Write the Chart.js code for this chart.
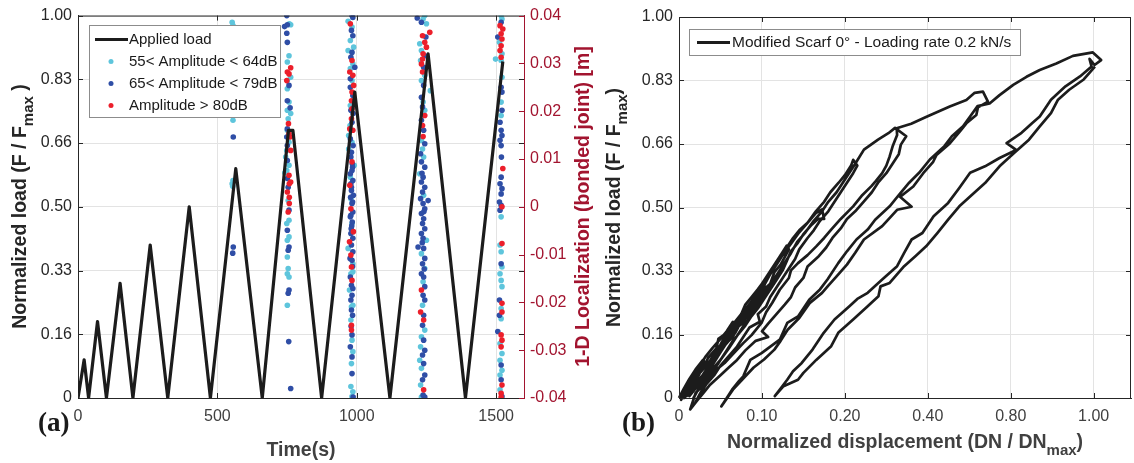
<!DOCTYPE html>
<html>
<head>
<meta charset="utf-8">
<script src="https://cdn.jsdelivr.net/npm/chart.js@4.4.1/dist/chart.umd.min.js"></script>
<style>
  html, body { margin: 0; padding: 0; background: #fff; }
  #wrap { position: relative; width: 1134px; height: 463px; overflow: hidden; }
  canvas { position: absolute; top: 0; }
  #cA { left: 0; }
  #cB { left: 596px; }
</style>
</head>
<body>
<div id="wrap">
  <canvas id="cA" width="600" height="463"></canvas>
  <canvas id="cB" width="538" height="463"></canvas>
</div>
<script>
// ---- axis ticks / labels ----
const loadTicks = [0, 1/6, 2/6, 3/6, 4/6, 5/6, 1];
const loadTickLabels = ['0', '0.16', '0.33', '0.50', '0.66', '0.83', '1.00'];
const timeTicks = [0, 500, 1000, 1500];
const timeTickLabels = ['0', '500', '1000', '1500'];
const locTicks = [-0.04, -0.03, -0.02, -0.01, 0, 0.01, 0.02, 0.03, 0.04];
const locTickLabels = ['-0.04', '-0.03', '-0.02', '-0.01', '0', '0.01', '0.02', '0.03', '0.04'];
const dispTicks = [0, 0.2, 0.4, 0.6, 0.8, 1.0];
const dispTickLabels = ['0', '0.10', '0.20', '0.40', '0.80', '1.00'];

const seriesLabels = ['Applied load', '55< Amplitude < 64dB', '65< Amplitude < 79dB', 'Amplitude > 80dB'];
const curveLabel = 'Modified Scarf 0\u00b0 - Loading rate 0.2 kN/s';

// ---- panel (a): applied load vs time ----
const loadTime = [0, 22, 38, 70, 102, 151, 197, 259, 322, 399, 475, 566, 661, 755, 771, 874, 993, 1119, 1256, 1390, 1524];
const appliedLoad = [0, 0.10, 0, 0.20, 0, 0.30, 0, 0.40, 0, 0.50, 0, 0.60, 0, 0.70, 0.70, 0, 0.80, 0, 0.90, 0, 0.88];

// AE hits [time s, 1-D location m]
const hitsLow = [
  [553,0.0386],[556,0.0379],[555,0.0202],[556,0.0181],[553,0.0048],[556,0.0055],[555,0.0043],
  [763,0.0381],[758,0.0383],[757,0.0316],[751,0.0303],[763,0.0271],[751,0.0264],[751,0.0247],[757,0.0219],
  [751,0.0202],[763,0.0195],[754,0.0184],[751,0.0160],[757,0.0135],[749,0.0118],[745,0.0104],[757,0.0087],
  [749,0.0076],[742,0.0071],[754,0.0013],[757,-0.0028],[749,-0.0035],[757,-0.0063],[751,-0.0070],
  [751,-0.0105],[754,-0.0129],[751,-0.0140],[757,-0.0147],[751,-0.0206],
  [969,0.0388],[983,0.0376],[977,0.0348],[989,0.0334],[969,0.0327],[986,0.0299],[977,0.0289],[983,0.0264],
  [977,0.0212],[976,0.0170],[971,0.0149],[983,0.0135],[971,0.0121],[991,0.0087],[977,0.0062],[979,0.0017],
  [983,-0.0035],[969,-0.0087],[986,-0.0119],[986,-0.0136],[979,-0.0140],[974,-0.0174],[986,-0.0206],
  [981,-0.0209],[979,-0.0237],[983,-0.0279],[986,-0.0303],[981,-0.0328],[979,-0.0376],[986,-0.0387],[983,-0.0397],
  [1244,0.0400],[1238,0.0393],[1250,0.0383],[1226,0.0341],[1232,0.0327],[1229,0.0306],[1244,0.0275],
  [1232,0.0264],[1264,0.0243],[1238,0.0219],[1244,0.0202],[1232,0.0139],[1236,0.0121],[1240,0.0104],
  [1226,0.0069],[1240,0.0024],[1250,-0.0070],[1232,-0.0098],[1244,-0.0129],[1238,-0.0157],[1236,-0.0206],
  [1244,-0.0258],[1232,-0.0272],[1229,-0.0293],[1226,-0.0321],[1232,-0.0338],[1229,-0.0373],[1232,-0.0398],
  [1518,0.0400],[1521,0.0393],[1512,0.0344],[1521,0.0320],[1498,0.0309],[1518,0.0306],[1521,0.0271],
  [1518,0.0219],[1518,0.0191],[1518,-0.0021],[1514,-0.0080],[1518,-0.0094],[1521,-0.0126],[1514,-0.0140],
  [1518,-0.0154],[1521,-0.0167],[1518,-0.0213],[1518,-0.0234],[1514,-0.0286],[1521,-0.0307],[1514,-0.0321],
  [1521,-0.0342],[1514,-0.0352],[1514,-0.0383]
];
const hitsMid = [
  [557,0.0146],[555,-0.0097],[557,-0.0084],
  [749,0.0400],[741,0.0377],[751,0.0381],[749,0.0363],[751,0.0344],[757,0.0254],[751,0.0222],[761,0.0207],
  [751,0.0163],[749,0.0146],[751,0.0128],[751,0.0097],[751,0.0059],[754,0.0041],[757,-0.0007],[751,-0.0049],
  [757,-0.0084],[754,-0.0091],[757,-0.0174],[754,-0.0181],[756,-0.0282],[763,-0.0380],
  [983,0.0400],[986,0.0396],[981,0.0369],[986,0.0358],[983,0.0323],[979,0.0313],[993,0.0292],[977,0.0268],
  [977,0.0250],[986,0.0233],[979,0.0202],[987,0.0195],[983,0.0177],[977,0.0142],[987,0.0128],[981,0.0114],
  [979,0.0104],[984,0.0090],[985,0.0083],[983,0.0076],[977,0.0069],[986,0.0055],[979,0.0048],[981,0.0041],
  [981,0.0034],[988,0.0024],[978,0.0020],[985,0.0010],[983,0.0007],[986,-0.0011],[979,-0.0018],[977,-0.0021],
  [984,-0.0032],[982,-0.0040],[980,-0.0046],[979,-0.0056],[986,-0.0066],[981,-0.0080],[986,-0.0094],
  [976,-0.0108],[983,-0.0112],[985,-0.0125],[977,-0.0147],[981,-0.0164],[986,-0.0171],[983,-0.0185],
  [979,-0.0195],[981,-0.0216],[985,-0.0227],[980,-0.0250],[983,-0.0268],[977,-0.0293],[983,-0.0314],
  [983,-0.0349],[987,-0.0398],
  [1217,0.0395],[1232,0.0386],[1248,0.0355],[1244,0.0316],[1240,0.0292],[1240,0.0254],[1232,0.0229],
  [1236,0.0209],[1232,0.0181],[1240,0.0160],[1244,0.0132],[1229,0.0111],[1232,0.0094],[1244,0.0083],
  [1234,0.0070],[1238,0.0062],[1232,0.0052],[1244,0.0041],[1236,0.0031],[1229,0.0017],[1256,0.0013],
  [1238,0.0007],[1244,-0.0004],[1241,-0.0010],[1232,-0.0014],[1240,-0.0025],[1236,-0.0035],[1244,-0.0046],
  [1232,-0.0056],[1238,-0.0066],[1235,-0.0075],[1220,-0.0084],[1240,-0.0087],[1244,-0.0108],[1236,-0.0119],
  [1242,-0.0130],[1232,-0.0140],[1240,-0.0147],[1244,-0.0167],[1238,-0.0185],[1244,-0.0195],[1240,-0.0227],
  [1236,-0.0248],[1240,-0.0279],[1244,-0.0300],[1236,-0.0310],[1240,-0.0328],[1244,-0.0352],[1236,-0.0362],
  [1238,-0.0394],[1244,-0.0398],
  [1518,0.0386],[1506,0.0355],[1518,0.0250],[1521,0.0240],[1521,0.0202],[1514,0.0177],[1518,0.0160],
  [1521,0.0149],[1514,0.0139],[1518,0.0128],[1519,0.0104],[1518,0.0062],[1514,0.0048],[1521,0.0038],
  [1518,0.0027],[1512,0.0010],[1518,0.0003],[1514,-0.0007],[1518,-0.0119],[1512,-0.0195],[1512,-0.0227],
  [1506,-0.0261],[1518,-0.0331],[1518,-0.0362],[1521,-0.0397]
];
const hitsHigh = [
  [763,0.0291],[751,0.0282],[757,0.0278],[749,0.0264],[755,0.0174],[757,0.0153],[761,0.0146],[763,0.0118],
  [757,0.0066],[763,0.0052],[758,0.0048],[751,0.0031],[758,0.0020],[758,0.0007],[754,-0.0011],
  [977,0.0383],[983,0.0306],[975,0.0282],[986,0.0275],[989,0.0254],[983,0.0240],[981,0.0222],[983,0.0205],
  [981,0.0184],[975,0.0163],[986,0.0160],[983,0.0094],[975,0.0045],[979,-0.0004],[988,-0.0052],[974,-0.0073],
  [979,-0.0101],[981,-0.0126],[983,-0.0154],[981,-0.0248],[981,-0.0258],
  [1262,0.0365],[1236,0.0358],[1244,0.0344],[1250,0.0334],[1238,0.0320],[1236,0.0309],[1232,0.0299],
  [1236,0.0282],[1244,0.0191],[1236,0.0170],[1238,0.0147],[1232,-0.0174],[1229,-0.0220],[1240,-0.0237],
  [1240,-0.0383],
  [1514,0.0379],[1524,0.0372],[1518,0.0362],[1521,0.0351],[1518,0.0337],[1514,0.0327],[1518,0.0313],
  [1524,0.0080],[1521,0],[1521,-0.0077],[1521,-0.0202],[1521,-0.0220],[1518,-0.0268],[1521,-0.0279],
  [1518,-0.0293],[1521,-0.0373],[1518,-0.0390],[1518,-0.0398]
];

// ---- panel (b): load vs displacement, cycle by cycle [disp, load] ----
const cyc1 = [[0,0],[0.012,0.025],[0.025,0.05],[0.04,0.075],[0.058,0.1],[0.06,0.09],[0.045,0.065],[0.03,0.035],[0.012,0.01],[0.005,-0.005]];
const cyc2 = [[0.02,0.03],[0.035,0.055],[0.05,0.085],[0.065,0.11],[0.08,0.13],[0.1,0.155],[0.115,0.175],[0.13,0.2],
  [0.135,0.19],[0.12,0.165],[0.105,0.14],[0.095,0.12],[0.075,0.09],[0.065,0.07],[0.045,0.045],[0.03,0.02],[0.012,0]];
const cyc3 = [[0.03,0.035],[0.045,0.06],[0.06,0.08],[0.07,0.105],[0.09,0.13],[0.095,0.155],[0.12,0.175],[0.135,0.2],
  [0.15,0.22],[0.16,0.245],[0.175,0.265],[0.19,0.285],[0.2,0.3],[0.21,0.29],[0.2,0.27],[0.185,0.255],[0.175,0.23],
  [0.165,0.205],[0.14,0.185],[0.13,0.16],[0.11,0.14],[0.1,0.12],[0.085,0.1],[0.07,0.075],[0.05,0.05],[0.035,0.02],[0.018,0.005]];
const cyc4 = [[0.035,0.035],[0.05,0.065],[0.07,0.09],[0.085,0.115],[0.1,0.14],[0.11,0.16],[0.13,0.185],[0.15,0.21],
  [0.165,0.24],[0.18,0.26],[0.19,0.285],[0.21,0.31],[0.22,0.33],[0.235,0.355],[0.245,0.375],[0.26,0.4],[0.265,0.39],
  [0.255,0.37],[0.245,0.35],[0.23,0.33],[0.22,0.3],[0.2,0.28],[0.19,0.255],[0.175,0.235],[0.16,0.21],[0.145,0.19],
  [0.135,0.17],[0.12,0.15],[0.1,0.125],[0.085,0.1],[0.07,0.075],[0.055,0.05],[0.04,0.025],[0.025,0.005]];
const cyc5 = [[0.04,0.03],[0.06,0.065],[0.075,0.09],[0.09,0.115],[0.11,0.145],[0.125,0.17],[0.14,0.195],[0.155,0.22],
  [0.17,0.245],[0.185,0.27],[0.2,0.3],[0.215,0.325],[0.23,0.35],[0.245,0.375],[0.26,0.395],[0.275,0.42],[0.29,0.44],
  [0.31,0.46],[0.33,0.485],[0.345,0.495],[0.35,0.47],[0.335,0.47],[0.32,0.455],[0.3,0.43],[0.285,0.405],[0.27,0.385],
  [0.26,0.36],[0.25,0.335],[0.235,0.31],[0.22,0.285],[0.205,0.26],[0.19,0.235],[0.175,0.215],[0.16,0.19],[0.145,0.17],
  [0.13,0.15],[0.115,0.125],[0.1,0.1],[0.08,0.075],[0.065,0.05],[0.045,0.02],[0.035,0]];
const cyc6 = [[0.05,0.03],[0.065,0.06],[0.08,0.085],[0.1,0.12],[0.115,0.145],[0.13,0.17],[0.145,0.195],[0.16,0.22],
  [0.175,0.245],[0.19,0.27],[0.205,0.295],[0.22,0.325],[0.235,0.35],[0.25,0.375],[0.27,0.405],[0.29,0.435],[0.31,0.46],
  [0.33,0.49],[0.35,0.515],[0.365,0.54],[0.385,0.565],[0.4,0.585],[0.415,0.61],[0.42,0.625],[0.43,0.61],[0.42,0.59],
  [0.405,0.565],[0.39,0.54],[0.375,0.515],[0.36,0.49],[0.34,0.465],[0.325,0.44],[0.31,0.42],[0.29,0.39],[0.28,0.365],
  [0.265,0.34],[0.25,0.315],[0.235,0.29],[0.22,0.265],[0.21,0.24],[0.19,0.22],[0.195,0.2],[0.17,0.185],[0.155,0.16],
  [0.14,0.135],[0.12,0.11],[0.1,0.085],[0.085,0.06],[0.065,0.035],[0.05,0.01],[0.04,-0.01]];
const cyc7 = [[0.055,0.02],[0.07,0.05],[0.085,0.075],[0.1,0.1],[0.12,0.13],[0.135,0.155],[0.15,0.18],[0.165,0.205],
  [0.18,0.23],[0.195,0.255],[0.21,0.28],[0.225,0.305],[0.24,0.33],[0.255,0.355],[0.27,0.38],[0.285,0.41],[0.305,0.435],
  [0.325,0.465],[0.345,0.49],[0.36,0.515],[0.38,0.54],[0.395,0.565],[0.41,0.59],[0.425,0.615],[0.446,0.652],[0.48,0.678],
  [0.505,0.695],[0.521,0.709],[0.548,0.687],
  [0.535,0.665],[0.53,0.64],[0.515,0.615],[0.5,0.59],[0.48,0.565],[0.465,0.54],[0.445,0.515],[0.425,0.49],[0.405,0.47],
  [0.39,0.445],[0.37,0.42],[0.355,0.395],[0.335,0.37],[0.31,0.345],[0.3,0.315],[0.28,0.29],[0.27,0.265],[0.255,0.245],
  [0.235,0.22],[0.215,0.195],[0.2,0.175],[0.215,0.16],[0.185,0.15],[0.16,0.125],[0.14,0.1],[0.12,0.08],[0.1,0.06],
  [0.075,0.035],[0.06,0.015],[0.045,-0.005],[0.027,-0.03]];
const cyc8 = [[0.04,0.013],[0.055,0.03],[0.066,0.048],[0.085,0.07],[0.11,0.092],[0.13,0.115],[0.155,0.144],[0.175,0.165],
  [0.199,0.197],[0.21,0.225],[0.225,0.25],[0.243,0.284],[0.265,0.315],[0.27,0.335],[0.287,0.354],[0.31,0.375],[0.331,0.398],
  [0.35,0.42],[0.367,0.442],[0.39,0.47],[0.42,0.503],[0.44,0.53],[0.464,0.556],[0.475,0.57],[0.49,0.59],[0.5,0.61],
  [0.508,0.634],[0.515,0.66],[0.526,0.69],[0.525,0.708],[0.56,0.72],[0.597,0.738],[0.653,0.765],[0.693,0.782],
  [0.713,0.801],[0.733,0.804],[0.745,0.778],[0.721,0.763],
  [0.717,0.743],[0.693,0.721],[0.677,0.699],[0.653,0.668],[0.621,0.638],[0.613,0.62],[0.589,0.59],[0.565,0.555],
  [0.533,0.528],[0.561,0.502],[0.526,0.494],[0.49,0.451],[0.446,0.416],[0.425,0.381],[0.405,0.35],[0.38,0.319],
  [0.36,0.295],[0.345,0.276],[0.315,0.249],[0.29,0.21],[0.262,0.179],[0.245,0.15],[0.23,0.127],[0.205,0.101],
  [0.18,0.08],[0.16,0.057],[0.13,0.022],[0.102,-0.022]];
const cyc9 = [[0.128,0.022],[0.145,0.045],[0.155,0.057],[0.172,0.1],[0.199,0.118],[0.243,0.153],[0.261,0.197],
  [0.287,0.214],[0.314,0.258],[0.34,0.285],[0.358,0.311],[0.384,0.354],[0.405,0.385],[0.428,0.416],[0.455,0.442],
  [0.473,0.468],[0.508,0.503],[0.534,0.538],[0.555,0.565],[0.579,0.591],[0.605,0.626],[0.64,0.661],[0.658,0.687],
  [0.685,0.713],[0.702,0.739],[0.72,0.766],[0.749,0.773],[0.773,0.795],[0.806,0.822],[0.838,0.843],[0.87,0.861],
  [0.91,0.878],[0.95,0.898],[0.998,0.907],[1.018,0.887],[1.002,0.874],[0.99,0.89],[0.995,0.87],
  [0.967,0.844],[0.932,0.818],[0.897,0.783],[0.87,0.739],[0.852,0.722],[0.826,0.696],[0.79,0.669],[0.813,0.651],
  [0.773,0.63],[0.738,0.608],[0.702,0.591],[0.675,0.55],[0.649,0.512],[0.614,0.477],[0.587,0.433],[0.561,0.416],
  [0.543,0.381],[0.526,0.346],[0.49,0.311],[0.455,0.276],[0.43,0.26],[0.411,0.241],[0.375,0.206],[0.349,0.171],
  [0.322,0.127],[0.296,0.092],[0.275,0.07],[0.261,0.048],[0.245,0.025],[0.231,0.005]];
const cyc10 = [[0.252,0.031],[0.287,0.048],[0.3,0.066],[0.331,0.1],[0.367,0.136],[0.384,0.171],[0.42,0.206],
  [0.455,0.241],[0.481,0.267],[0.486,0.293],[0.508,0.302],[0.543,0.346],[0.57,0.372],[0.596,0.398],[0.623,0.433],
  [0.649,0.468],[0.676,0.503],[0.702,0.529],[0.738,0.564],[0.773,0.608],[0.808,0.643],[0.844,0.678],[0.87,0.713],
  [0.897,0.748],[0.914,0.783],[0.941,0.809],[0.976,0.836],[1.003,0.87]];

const FONT = "'Liberation Sans', Arial, Helvetica, sans-serif";
const SERIF = "'Liberation Serif', 'Times New Roman', serif";
const AX = '#262626';
const RED = '#a2142f';
const GRID = '#e3e3e3';
const colLine = '#1c1c1c';
const colLow = '#5ec5dc';
const colMid = '#2f4ea6';
const colHigh = '#ec1f2b';
const dotR = 2.8;

const toXY = pairs => pairs.map(p => ({ x: p[0], y: p[1] }));
const fixTicks = values => scale => { scale.ticks = values.map(v => ({ value: v })); };

function seg(ctx, x1, y1, x2, y2) {
  ctx.beginPath(); ctx.moveTo(x1, y1); ctx.lineTo(x2, y2); ctx.stroke();
}

// text made of runs (for subscripts), centred at cx,cy
function drawRuns(ctx, runs, cx, cy, vertical, color) {
  ctx.save();
  ctx.translate(cx, cy);
  if (vertical) ctx.rotate(-Math.PI / 2);
  ctx.fillStyle = color;
  ctx.textBaseline = 'middle';
  ctx.textAlign = 'left';
  let total = 0;
  runs.forEach(r => { ctx.font = r.font; r.w = ctx.measureText(r.text).width; total += r.w; });
  let x = -total / 2;
  runs.forEach(r => { ctx.font = r.font; ctx.fillText(r.text, x, r.dy || 0); x += r.w; });
  ctx.restore();
}

function inwardTicks(ctx, a, xs, ys, xScale, yScale, color, right, left) {
  ctx.strokeStyle = color;
  ctx.lineWidth = 1;
  ys.forEach(v => {
    const p = Math.round(yScale.getPixelForValue(v)) + 0.5;
    if (left) seg(ctx, a.left, p, a.left + 5, p);
    if (right) seg(ctx, a.right - 5, p, a.right, p);
  });
  xs.forEach(v => {
    const p = Math.round(xScale.getPixelForValue(v)) + 0.5;
    seg(ctx, p, a.bottom, p, a.bottom - 5);
    seg(ctx, p, a.top, p, a.top + 5);
  });
}

const titleFont = 'bold 19.5px ' + FONT;
const subFont = 'bold 15px ' + FONT;

const panelA = {
  id: 'panelA',
  afterDraw(chart) {
    const { ctx, chartArea: a } = chart;
    const { x, y, yR } = chart.scales;
    ctx.save();
    ctx.strokeStyle = AX; ctx.lineWidth = 1;
    seg(ctx, a.left, a.top + 0.5, a.right, a.top + 0.5);
    inwardTicks(ctx, a, timeTicks, loadTicks, x, y, AX, true, true);
    ctx.strokeStyle = RED;
    locTicks.forEach(v => {
      const p = Math.round(yR.getPixelForValue(v)) + 0.5;
      seg(ctx, a.right - 5, p, a.right, p);
    });

    // legend
    const ds = chart.data.datasets;
    ctx.fillStyle = '#fff';
    ctx.fillRect(89.5, 25.5, 191, 92);
    ctx.strokeStyle = '#8c8c8c';
    ctx.strokeRect(89.5, 25.5, 191, 92);
    ctx.font = '15px ' + FONT;
    ctx.textBaseline = 'middle';
    ctx.textAlign = 'left';
    [0, 1, 2, 3].forEach(i => {
      const ry = 39.5 + i * 22;
      if (i === 0) {
        ctx.strokeStyle = ds[0].borderColor; ctx.lineWidth = 3.2;
        seg(ctx, 95, ry, 128, ry);
      } else {
        ctx.fillStyle = ds[i].backgroundColor;
        ctx.beginPath(); ctx.arc(111, ry, 2.5, 0, Math.PI * 2); ctx.fill();
      }
      ctx.fillStyle = '#1a1a1a';
      ctx.fillText(ds[i].label, 129, ry + 0.5);
    });

    // titles
    drawRuns(ctx, [{ text: 'Normalized load (F / F', font: titleFont }, { text: 'max', font: subFont, dy: 8 },
      { text: ' )', font: titleFont }], 21, 206.5, true, AX);
    drawRuns(ctx, [{ text: '1-D Localization (bonded joint) [m]', font: titleFont }], 584, 206.5, true, RED);
    drawRuns(ctx, [{ text: 'Time(s)', font: titleFont }], 301, 451, false, '#404040');
    ctx.fillStyle = '#1a1a1a';
    ctx.font = 'bold 27px ' + SERIF;
    ctx.textBaseline = 'middle';
    ctx.fillText('(a)', 38, 424);
    ctx.restore();
  }
};

const panelB = {
  id: 'panelB',
  afterDraw(chart) {
    const { ctx, chartArea: a } = chart;
    const { x, y } = chart.scales;
    ctx.save();
    ctx.strokeStyle = AX; ctx.lineWidth = 1;
    seg(ctx, a.left, a.top + 0.5, a.right, a.top + 0.5);
    seg(ctx, a.right - 0.5, a.top, a.right - 0.5, a.bottom);
    inwardTicks(ctx, a, dispTicks, loadTicks, x, y, AX, true, true);

    // legend
    const ds = chart.data.datasets[0];
    ctx.font = '15.5px ' + FONT;
    const tw = ctx.measureText(ds.label).width;
    const right = Math.max(424.5, 136 + tw + 5);
    ctx.fillStyle = '#fff';
    ctx.fillRect(93.5, 29.5, right - 93.5, 26);
    ctx.strokeStyle = '#8c8c8c';
    ctx.strokeRect(93.5, 29.5, right - 93.5, 26);
    ctx.strokeStyle = ds.borderColor; ctx.lineWidth = 3.2;
    seg(ctx, 101, 42.5, 134, 42.5);
    ctx.fillStyle = '#1a1a1a';
    ctx.textBaseline = 'middle';
    ctx.textAlign = 'left';
    ctx.fillText(ds.label, 136, 43);

    drawRuns(ctx, [{ text: 'Normalized load (F / F', font: titleFont }, { text: 'max', font: subFont, dy: 8 },
      { text: ')', font: titleFont }], 19, 207.5, true, AX);
    drawRuns(ctx, [{ text: 'Normalized displacement (DN / DN', font: titleFont }, { text: 'max', font: subFont, dy: 8 },
      { text: ')', font: titleFont }], 309, 443, false, '#404040');
    ctx.fillStyle = '#1a1a1a';
    ctx.font = 'bold 27px ' + SERIF;
    ctx.textBaseline = 'middle';
    ctx.fillText('(b)', 26, 424);
    ctx.restore();
  }
};

const tickFont = { family: FONT, size: 16 };

new Chart(document.getElementById('cA'), {
  type: 'scatter',
  data: {
    datasets: [
      { label: seriesLabels[0], data: loadTime.map((t, i) => ({ x: t, y: appliedLoad[i] })), showLine: true,
        borderColor: colLine, borderWidth: 3.2, borderJoinStyle: 'round', pointRadius: 0, yAxisID: 'y', order: 0 },
      { label: seriesLabels[1], data: toXY(hitsLow), backgroundColor: colLow, borderWidth: 0,
        pointRadius: dotR, yAxisID: 'yR', order: 3 },
      { label: seriesLabels[2], data: toXY(hitsMid), backgroundColor: colMid, borderWidth: 0,
        pointRadius: dotR, yAxisID: 'yR', order: 2 },
      { label: seriesLabels[3], data: toXY(hitsHigh), backgroundColor: colHigh, borderWidth: 0,
        pointRadius: dotR, yAxisID: 'yR', order: 1 }
    ]
  },
  options: {
    responsive: false, animation: false, events: [],
    layout: { padding: { top: 15, left: 0, right: 0, bottom: 0 } },
    plugins: { legend: { display: false }, tooltip: { enabled: false } },
    scales: {
      x: {
        type: 'linear', min: 0, max: 1600,
        afterBuildTicks: fixTicks(timeTicks),
        afterFit: s => { s.height = 65; },
        ticks: { callback: (v, i) => timeTickLabels[i], color: '#404040', font: tickFont, padding: 9, maxRotation: 0 },
        grid: { color: GRID, drawTicks: false },
        border: { color: AX }
      },
      y: {
        position: 'left', min: 0, max: 1,
        afterBuildTicks: fixTicks(loadTicks),
        afterFit: s => { s.width = 78; },
        ticks: { callback: (v, i) => loadTickLabels[i], color: AX, font: tickFont, padding: 6 },
        grid: { color: GRID, drawTicks: false },
        border: { color: AX }
      },
      yR: {
        position: 'right', min: -0.04, max: 0.04,
        afterBuildTicks: fixTicks(locTicks),
        afterFit: s => { s.width = 76; },
        ticks: { callback: (v, i) => locTickLabels[i], color: RED, font: tickFont, padding: 6 },
        grid: { drawOnChartArea: false, drawTicks: false },
        border: { color: RED }
      }
    }
  },
  plugins: [panelA]
});

const hystPath = [].concat(cyc1, cyc2, cyc3, cyc4, cyc5, cyc6, cyc7, cyc8, cyc9, cyc10);

new Chart(document.getElementById('cB'), {
  type: 'scatter',
  data: {
    datasets: [
      { label: curveLabel, data: toXY(hystPath), showLine: true, borderColor: colLine, borderWidth: 2.7,
        borderJoinStyle: 'round', pointRadius: 0, clip: 14 }
    ]
  },
  options: {
    responsive: false, animation: false, events: [],
    layout: { padding: { top: 17, left: 0, right: 3, bottom: 0 } },
    plugins: { legend: { display: false }, tooltip: { enabled: false } },
    scales: {
      x: {
        type: 'linear', min: 0, max: 1.09,
        afterBuildTicks: fixTicks(dispTicks),
        afterFit: s => { s.height = 65; },
        ticks: { callback: (v, i) => dispTickLabels[i], color: '#404040', font: tickFont, padding: 9, maxRotation: 0 },
        grid: { color: GRID, drawTicks: false },
        border: { color: AX }
      },
      y: {
        position: 'left', min: 0, max: 1,
        afterBuildTicks: fixTicks(loadTicks),
        afterFit: s => { s.width = 83; },
        ticks: { callback: (v, i) => loadTickLabels[i], color: AX, font: tickFont, padding: 6 },
        grid: { color: GRID, drawTicks: false },
        border: { color: AX }
      }
    }
  },
  plugins: [panelB]
});
</script>
</body>
</html>
